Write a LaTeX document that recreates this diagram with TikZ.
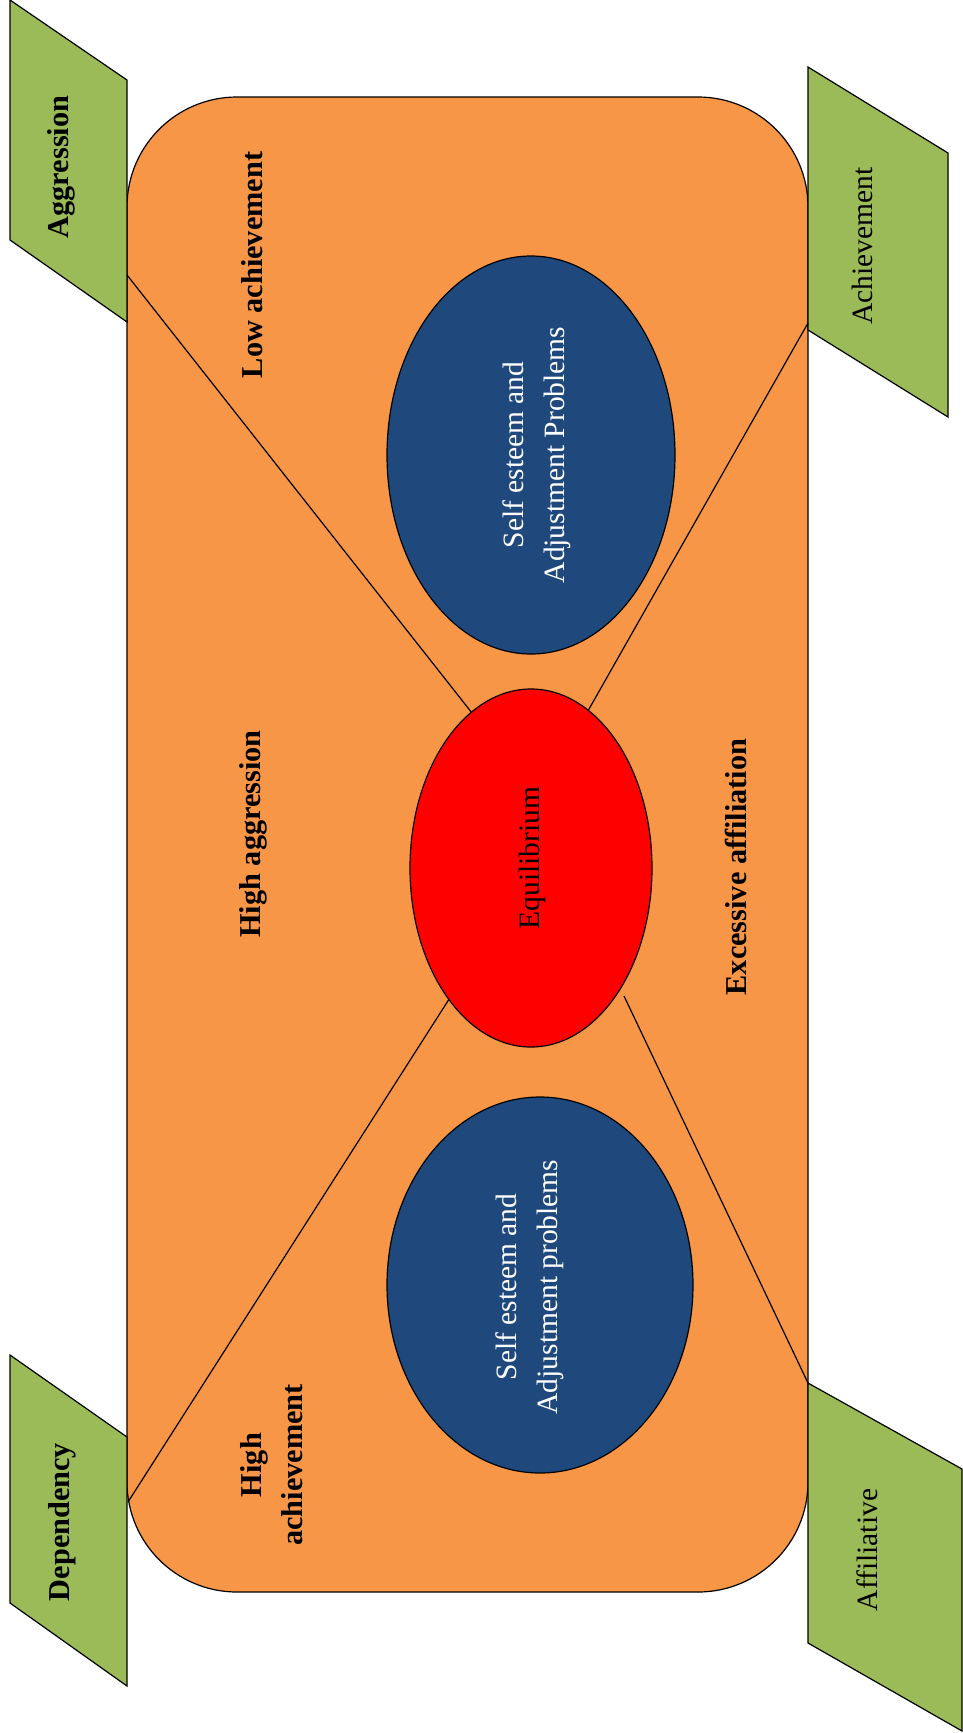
\documentclass[tikz,border=0pt]{standalone}
\usepackage{fontspec}
\setmainfont{Liberation Serif}
\usetikzlibrary{shapes.geometric}
\definecolor{boxorange}{HTML}{F79646}
\definecolor{parGreen}{HTML}{9BBB59}
\definecolor{ellBlue}{HTML}{1F497D}
\definecolor{eqRed}{HTML}{FF0000}
\tikzset{
  outline/.style={draw=black, line width=1.2pt},
  para/.style={outline, fill=parGreen},
  bigtext/.style={rotate=90, font=\fontsize{29.5}{41}\selectfont, align=center, inner sep=0pt},
  boldtext/.style={bigtext, font=\fontsize{30.3}{41}\selectfont\bfseries},
  blob/.style={ellipse, outline, inner sep=0pt},
  conn/.style={draw=black, line width=1.2pt}
}
\begin{document}
\begin{tikzpicture}[x=1pt, y=-1pt]
\useasboundingbox (0,0) rectangle (963,1733);
% main rounded box
\node[outline, fill=boxorange, rounded corners=110pt, minimum width=681pt, minimum height=1495pt, inner sep=0pt] (box) at (467.5,844.5) {};
% parallelograms
\draw[para] (10,0) -- (127,80) -- (127,322) -- (10,240) -- cycle;
\draw[para] (808,67) -- (948,153) -- (948,417) -- (808,330) -- cycle;
\draw[para] (10,1355) -- (127,1437) -- (127,1686) -- (10,1603) -- cycle;
\draw[para] (808,1383) -- (962,1469) -- (962,1731) -- (808,1643) -- cycle;
\node[boldtext] (agg) at (61,167) {Aggression};
\node[bigtext] (ach) at (862,246) {Achievement};
\node[boldtext] (dep) at (62,1522) {Dependency};
\node[bigtext] (aff) at (867,1550) {Affiliative};
% connector end points on the box edges
\coordinate (aggpt) at (127,275);
\coordinate (achpt) at (808,323);
\coordinate (deppt) at (128,1502);
\coordinate (affpt) at (808,1383);
\coordinate (affend) at (624,996);
% ellipses
\node[blob, fill=ellBlue, minimum width=288pt, minimum height=398pt] (top) at (531,455) {};
\node[blob, fill=eqRed, minimum width=242pt, minimum height=358pt] (eq) at (531,868) {};
\node[blob, fill=ellBlue, minimum width=306pt, minimum height=376pt] (bot) at (540,1285) {};
% connectors
\draw[conn] (aggpt) -- (eq.111);
\draw[conn] (achpt) -- (eq.70.5);
\draw[conn] (deppt) -- (eq.-122.4);
\draw[conn] (affpt) -- (affend);
% texts
\node[bigtext, text=white] (toptxt) at (537,455) {Self esteem and\\Adjustment Problems};
\node[bigtext, text=white] (bottxt) at (530,1287) {Self esteem and\\Adjustment problems};
\node[bigtext] (eqtxt) at (532,858) {Equilibrium};
\node[boldtext] (lowach) at (252,265) {Low achievement};
\node[boldtext] (highagg) at (253,834) {High aggression};
\node[boldtext] (excaff) at (736,867) {Excessive affiliation};
\node[boldtext] (highach) at (272,1465) {High\\achievement};
\end{tikzpicture}
\end{document}
